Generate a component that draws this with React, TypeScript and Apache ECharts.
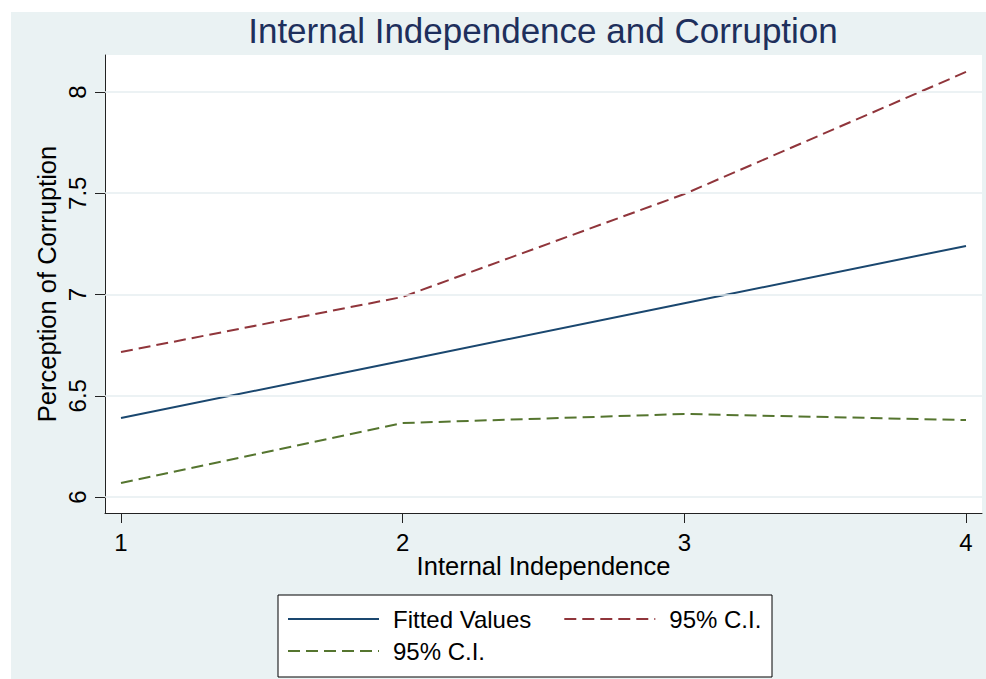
import React, { useEffect, useRef } from "react";
import * as echarts from "echarts";

const titleText = "Internal Independence and Corruption";
const xName = "Internal Independence";
const yName = "Perception of Corruption";
const xValues = [1, 2, 3, 4];
const fitted = [6.39, 6.673, 6.957, 7.24];
const ciUpper = [6.716, 6.988, 7.496, 8.099];
const ciLower = [6.069, 6.365, 6.41, 6.38];
const xTicks = [1, 2, 3, 4];
const yTicks = [6, 6.5, 7, 7.5, 8];
const legendNames: Record<string, string> = {
  fitted: "Fitted Values",
  ci_upper: "95% C.I.",
  ci_lower: "95% C.I.",
};

const FONT = "'Liberation Sans', Arial, sans-serif";

export default function App() {
  const ref = useRef<HTMLDivElement>(null);
  useEffect(() => {
    if (!ref.current) return;
    const chart = echarts.init(ref.current, null, { renderer: "svg" });
    const pairs = (ys: number[]) => xValues.map((x, i) => [x, ys[i]]);
    const legendCommon = {
      left: 276,
      orient: "horizontal" as const,
      itemWidth: 91,
      itemHeight: 14,
      itemGap: 32,
      padding: 0,
      selectedMode: false,
      itemStyle: { opacity: 0 },
      formatter: (n: string) => legendNames[n] ?? n,
      textStyle: { fontSize: 24, color: "#000", fontFamily: FONT, padding: [0, 0, 0, 9] },
    };
    chart.setOption({
      animation: false,
      backgroundColor: "#eaf2f3",
      textStyle: { fontFamily: FONT },
      title: {
        text: titleText,
        left: 532,
        textAlign: "center",
        top: 1,
        padding: 0,
        textStyle: { fontSize: 35, fontWeight: "normal", color: "#1e2f5c", fontFamily: FONT },
      },
      grid: {
        left: 94,
        right: 4,
        top: 43,
        bottom: 166,
        show: true,
        backgroundColor: "#ffffff",
        borderWidth: 0,
      },
      xAxis: {
        type: "value",
        min: 0.9432,
        max: 4.0568,
        name: xName,
        nameLocation: "middle",
        nameGap: 40,
        nameMoveOverlap: false,
        nameTextStyle: { fontSize: 25.5, color: "#000", fontFamily: FONT },
        axisLine: { show: true, onZero: false, lineStyle: { color: "#222", width: 1 } },
        axisTick: { show: true, length: 10, customValues: xTicks, lineStyle: { color: "#222" } },
        axisLabel: { customValues: xTicks, fontSize: 24, color: "#000", margin: 17, fontFamily: FONT },
        splitLine: { show: false },
      },
      yAxis: {
        type: "value",
        min: 5.921,
        max: 8.1827,
        name: yName,
        nameLocation: "middle",
        nameGap: 45,
        nameMoveOverlap: false,
        nameTextStyle: { fontSize: 25.5, color: "#000", fontFamily: FONT },
        axisLine: { show: true, onZero: false, lineStyle: { color: "#222", width: 1 } },
        axisTick: { show: true, length: 10, customValues: yTicks, lineStyle: { color: "#222" } },
        axisLabel: {
          customValues: yTicks,
          rotate: 90,
          fontSize: 24,
          color: "#000",
          margin: 16,
          fontFamily: FONT,
        },
        splitLine: { show: false },
      },
      legend: [
        { ...legendCommon, top: 595, data: ["fitted", "ci_upper"] },
        { ...legendCommon, top: 627, data: ["ci_lower"] },
      ],
      graphic: [
        {
          type: "rect",
          z: 0,
          shape: { x: 267, y: 583, width: 494, height: 82 },
          style: { fill: "#ffffff", stroke: "#000", lineWidth: 1 },
        },
      ],
      series: [
        {
          name: "gridlines",
          type: "line",
          data: [],
          z: 1,
          silent: true,
          markLine: {
            silent: true,
            symbol: "none",
            label: { show: false },
            lineStyle: { color: "#e6eef0", width: 1.5, type: "solid" },
            data: yTicks.map((v) => ({ yAxis: v })),
          },
        },
        {
          name: "fitted",
          type: "line",
          data: pairs(fitted),
          symbol: "none",
          z: 3,
          lineStyle: { color: "#1a476f", width: 2, type: "solid" },
          itemStyle: { color: "#1a476f" },
        },
        {
          name: "ci_upper",
          type: "line",
          data: pairs(ciUpper),
          symbol: "none",
          z: 3,
          lineStyle: { color: "#90353b", width: 2, type: [12, 6] },
          itemStyle: { color: "#90353b" },
        },
        {
          name: "ci_lower",
          type: "line",
          data: pairs(ciLower),
          symbol: "none",
          z: 3,
          lineStyle: { color: "#55752f", width: 2, type: [12, 6] },
          itemStyle: { color: "#55752f" },
        },
      ],
    });
    return () => chart.dispose();
  }, []);
  return (
    <div style={{ position: "absolute", left: 0, top: 0, width: 986, height: 679, background: "#ffffff" }}>
      <div ref={ref} style={{ position: "absolute", left: 11, top: 12, width: 975, height: 667 }} />
    </div>
  );
}
